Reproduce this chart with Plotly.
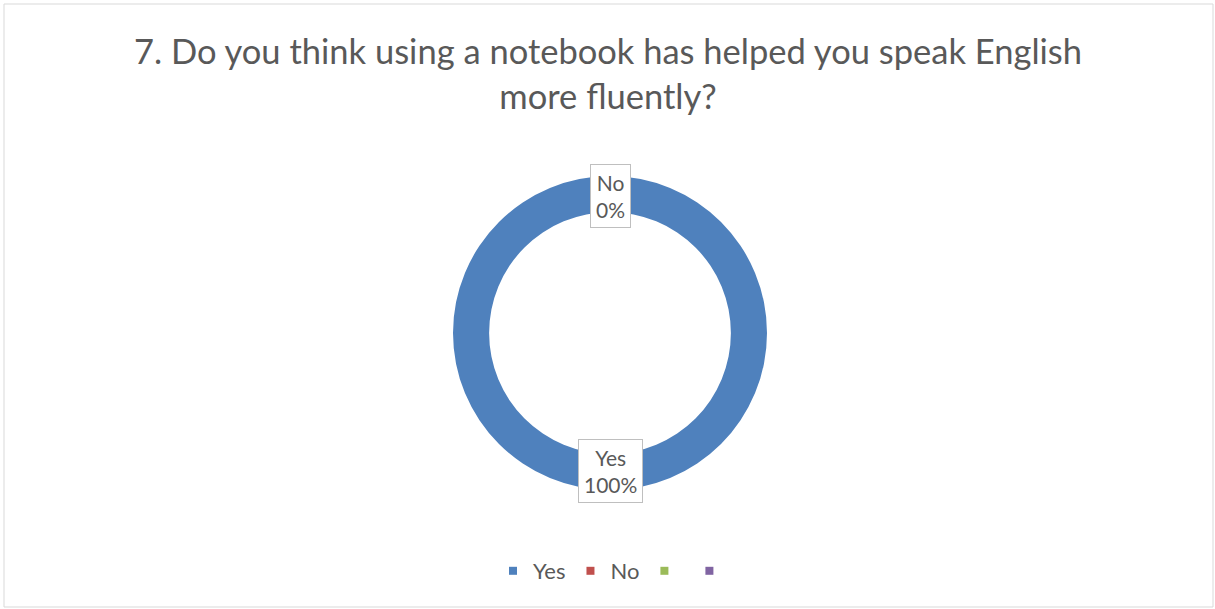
import plotly.graph_objects as go

# Survey answers and their shares
categories = ["Yes", "No", "", " "]
shares = [100, 0, 0, 0]
colors = ["#4F81BD", "#C0504D", "#9BBB59", "#8064A2"]
title_text = "7. Do you think using a notebook has helped you speak English<br>more fluently?"

W, H = 1215, 609
cx, cy, r = 610, 333, 157

fig = go.Figure()

fig.add_trace(go.Pie(
    labels=categories[:2],
    values=shares[:2],
    hole=0.77,
    sort=False,
    direction="clockwise",
    rotation=0,
    marker=dict(colors=colors[:2], line=dict(width=0)),
    textinfo="none",
    hoverinfo="label+percent",
    showlegend=False,
    domain=dict(x=[(cx - r) / W, (cx + r) / W], y=[1 - (cy + r) / H, 1 - (cy - r) / H]),
))

# Legend entries
for name, col in zip(categories, colors):
    fig.add_trace(go.Scatter(
        x=[None], y=[None], mode="markers", name=name,
        marker=dict(symbol="square", size=8, color=col),
    ))

# Data labels in boxes
total = sum(shares)
label_pos = {"No": 196, "Yes": 471}
for name, val in zip(categories[:2], shares[:2]):
    fig.add_annotation(
        x=cx / W, y=1 - label_pos[name] / H, xref="paper", yref="paper",
        xanchor="center", yanchor="middle",
        text=f"{name}<br>{round(val / total * 100)}%",
        showarrow=False, align="center",
        font=dict(family="Lato, Open Sans, sans-serif", size=21, color="#595959"),
        bgcolor="white", bordercolor="#BFBFBF", borderwidth=1, borderpad=5,
    )

fig.add_annotation(
    x=608 / W, y=1 - 73 / H, xref="paper", yref="paper",
    xanchor="center", yanchor="middle",
    text=title_text, showarrow=False, align="center",
    font=dict(family="Lato, Open Sans, sans-serif", size=34.5, color="#595959"),
)

fig.add_shape(type="rect", xref="paper", yref="paper",
              x0=4 / W, x1=1213 / W, y0=1 - 607 / H, y1=1 - 4 / H,
              line=dict(color="#D9D9D9", width=1))

fig.update_layout(
    width=W, height=H,
    margin=dict(l=0, r=0, t=0, b=0),
    paper_bgcolor="white", plot_bgcolor="white",
    xaxis=dict(visible=False), yaxis=dict(visible=False),
    legend=dict(orientation="h", x=617 / W, xanchor="center", y=1 - 571 / H, yanchor="middle",
                font=dict(family="Lato, Open Sans, sans-serif", size=22, color="#595959"),
                itemwidth=30, tracegroupgap=0),
)

fig.write_html("out.html")
